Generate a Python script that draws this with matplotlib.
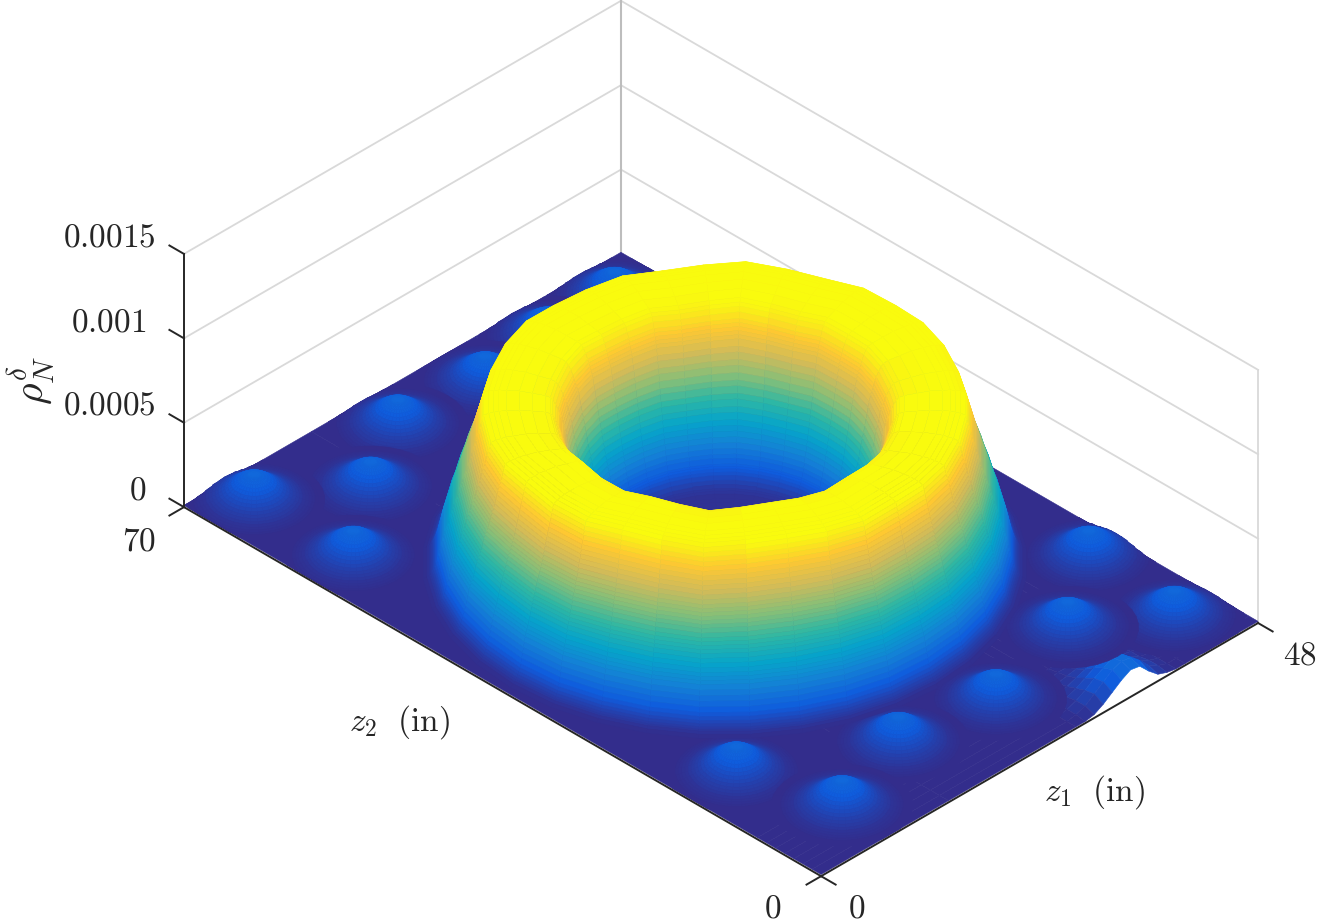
import numpy as np
import matplotlib
matplotlib.use('Agg')
import matplotlib.pyplot as plt
from matplotlib.colors import LinearSegmentedColormap

plt.rcParams['mathtext.fontset'] = 'cm'

parula = ['#352a87', '#0f5cdd', '#1481d6', '#06a4ca', '#2eb7a4',
          '#87bf77', '#d1bb59', '#fec832', '#f9fb0e']

# radial section of the ring, density in 1e-5
ring_center = (24.2, 34.8)
ring_r = [0, 4, 8, 8.5, 9, 9.3, 9.5, 9.7, 9.9, 10.1, 10.2, 10.3, 10.4, 10.5, 10.6, 10.7, 10.8, 10.9,
          11, 11.1, 11.2, 11.3, 11.4, 11.5, 11.6, 11.7, 11.8, 11.9, 12, 12.1, 12.2, 12.3, 12.4, 12.5,
          12.6, 12.7, 12.8, 12.9, 13, 13.2, 13.4, 13.6, 14, 15, 16, 17, 17.6, 18, 18.4, 18.8,
          18.9, 19, 19.1, 19.2, 19.3, 19.4, 19.5, 19.6, 19.7, 19.8, 19.9, 20, 20.1, 20.2, 20.3, 20.4,
          20.5, 20.6, 20.7, 20.8, 20.9, 21, 21.1, 21.2, 21.3, 21.4, 21.5, 21.6, 21.7, 21.8, 21.9, 22,
          22.1, 22.2, 22.3, 22.4, 22.5, 22.6, 22.7, 22.8, 22.9, 23, 23.2, 23.5]
ring_rho = [2, 2, 2, 2, 2.5, 3, 3.5, 5, 7, 9, 10.5, 12, 13, 14, 17, 19, 22, 25,
            28, 31, 34, 37, 41, 44, 48, 51, 55, 58, 62, 66, 69, 73, 76, 80,
            82, 84, 86, 88, 90, 93, 95.5, 97, 98, 99, 100, 100, 100, 99.5, 99, 98,
            95.5, 93, 90.5, 88, 85.5, 83, 80.5, 78, 75.5, 73, 70.5, 68, 66, 64, 62, 60,
            58, 56, 53.5, 51, 49, 47, 45, 43, 40.5, 38, 35.5, 33, 31, 29, 27, 24,
            21, 18, 15, 12, 10, 8, 6.5, 5, 4, 3, 2, 1]
# crest height around the ring, every 10 degrees
ring_crest = [0.97, 0.98, 0.96, 0.97, 0.99, 0.97, 0.96, 0.98, 0.97, 0.97, 0.99, 0.98,
              0.96, 0.97, 0.98, 0.96, 0.97, 0.99, 0.97, 0.96, 0.98, 0.97, 0.95, 0.97,
              0.98, 0.97, 0.96, 0.98, 0.97, 0.96, 0.97, 0.98, 0.97, 0.95, 0.97, 0.98]

# small domes
bump_z1 = [4.4, 4.5, 12.0, 19.4, 28.3, 36.0, 43.4, 7.7, 5.1, 16.8, 26.2, 37.0, 43.9, 44.9]
bump_z2 = [66.7, 55.9, 61.5, 65.9, 65.2, 66.0, 66.1, 5.4, 14.4, 8.3, 7.0, 9.9, 5.1, 15.5]
bump_r = [0, 0.25, 0.5, 0.75, 1, 1.25, 1.5, 1.75, 2, 2.25, 2.5, 2.75, 3, 3.25, 3.5, 3.75, 4, 4.25,
          4.5, 4.75, 5, 5.5]
bump_rho = [16, 16, 15.6, 15, 14.2, 13.2, 12, 10.7, 9.4, 8.2, 7, 6, 5, 4.2, 3.4, 2.8, 2.2, 1.8,
            1.4, 1.2, 1, 1]

# floor with the dome that lifts the z2=0 edge
floor_z1 = [0, 14, 28, 29, 30, 31, 32, 33, 34, 35, 36, 37, 38, 39, 40, 48]
floor_z2 = [0, 1, 2, 3, 4, 5, 6, 7, 70]
floor_rho = [[1, 1, 1, 1, 2, 5, 9, 13, 16, 15, 9, 4, 2, 1, 1, 1],
             [1, 1, 1, 2, 4, 8, 12, 16, 18, 17, 12, 6, 3, 1, 1, 1],
             [1, 1, 1, 2, 4, 7, 11, 14, 17, 16, 11, 6, 3, 1, 1, 1],
             [1, 1, 1, 1, 3, 5, 8, 11, 13, 12, 9, 5, 2, 1, 1, 1],
             [1, 1, 1, 1, 2, 3, 5, 7, 8, 8, 6, 3, 2, 1, 1, 1],
             [1, 1, 1, 1, 1, 2, 3, 4, 4, 4, 3, 2, 1, 1, 1, 1],
             [1, 1, 1, 1, 1, 1, 2, 2, 2, 2, 2, 1, 1, 1, 1, 1],
             [1, 1, 1, 1, 1, 1, 1, 1, 1, 1, 1, 1, 1, 1, 1, 1],
             [1, 1, 1, 1, 1, 1, 1, 1, 1, 1, 1, 1, 1, 1, 1, 1]]

z_ticks = [0, 0.0005, 0.001, 0.0015]
z_labels = ['0', '0.0005', '0.001', '0.0015']

W, H = 1319, 922
fig = plt.figure(figsize=(W / 100, H / 100), dpi=100, facecolor='white')
ax = fig.add_axes([43.7 / W, -193.8 / H, 1, W / H], projection='3d',
                  proj_type='ortho', computed_zorder=False)
ax.set_axis_off()
ax.view_init(elev=35.4, azim=-135)
ax.set_box_aspect((618, 901, 310.6), zoom=0.836)

cmap = LinearSegmentedColormap.from_list('parula', parula)


def surface(x, y, z, zorder):
    s = ax.plot_surface(x, y, z, cmap=cmap, vmin=0, vmax=0.00096, rstride=1, cstride=1,
                        linewidth=0, shade=False, zorder=zorder)
    s.set_edgecolor('face')
    s.set_linewidth(0.4)


def revolve(r, rho, c1, c2, crest, zorder):
    ang = np.deg2rad(np.arange(0, 361, 360 / len(crest)))
    rr, aa = np.meshgrid(r, ang)
    x = np.clip(c1 + rr * np.cos(aa), 0, 48)
    y = np.clip(c2 + rr * np.sin(aa), 0, 70)
    c = np.append(crest, crest[0])
    z = np.outer(c, np.array(rho) * 1e-5)
    surface(x, y, z, zorder)


X, Y = np.meshgrid(floor_z1, floor_z2)
surface(X, Y, np.array(floor_rho) * 1e-5, 2)

order = np.argsort(-(np.array(bump_z1) + np.array(bump_z2)))
for n, i in enumerate(order):
    revolve(bump_r, bump_rho, bump_z1[i], bump_z2[i], np.ones(36), 3 + n * 0.01)
revolve(ring_r, ring_rho, ring_center[0], ring_center[1], ring_crest, 4)

# walls
grid = dict(color='#d9d9d9', lw=1.3, zorder=1)
for t in z_ticks[1:]:
    ax.plot([0, 48, 48], [70, 70, 0], [t, t, t], **grid)
ax.plot([48, 48], [70, 70], [0, 0.0015], color='#bdbdbd', lw=1.5, zorder=1)
ax.plot([48, 48], [0, 0], [0, 0.0015], color='#d9d9d9', lw=1.3, zorder=1)

# axes
line = dict(color='#262626', lw=1.4, zorder=6)
ax.plot([0, 48], [0, 0], [0, 0], **line)
ax.plot([0, 0], [0, 70], [0, 0], **line)
ax.plot([0, 0], [70, 70], [0, 0.0015], **line)
for t in z_ticks:
    ax.plot([0, 0], [70, 71.6], [t, t], **line)
ax.plot([0, -1.6], [70, 70], [0, 0], **line)
ax.plot([0, -1.6], [0, 0], [0, 0], **line)
ax.plot([0, 0], [0, -1.6], [0, 0], **line)
ax.plot([48, 48], [0, -1.6], [0, 0], **line)

ax.set_xlim(0, 48, view_margin=0)
ax.set_ylim(0, 70, view_margin=0)
ax.set_zlim(0, 0.0015, view_margin=0)


def label(px, py, s, size=24, **kw):
    fig.text(px / W, 1 - py / H, s, fontsize=size, color='#262626', **kw)


for s, y, x in zip(z_labels, [490, 405, 322, 237], [146, 156, 146, 156]):
    label(x, y, '$\\mathrm{%s}$' % s, ha='right', va='center')
label(156, 541, '$\\mathrm{70}$', ha='right', va='center')
label(773, 908, '$\\mathrm{0}$', ha='center', va='center')
label(857, 908, '$\\mathrm{0}$', ha='center', va='center')
label(1300, 655, '$\\mathrm{48}$', ha='center', va='center')
label(400, 722, '$z_2\\ \\ \\mathrm{(in)}$', ha='center', va='center')
label(1095, 792, '$z_1\\ \\ \\mathrm{(in)}$', ha='center', va='center')
label(31, 380, '$\\rho_N^\\delta$', size=30, ha='center', va='center', rotation=90)

fig.savefig('out.png', dpi=100)
